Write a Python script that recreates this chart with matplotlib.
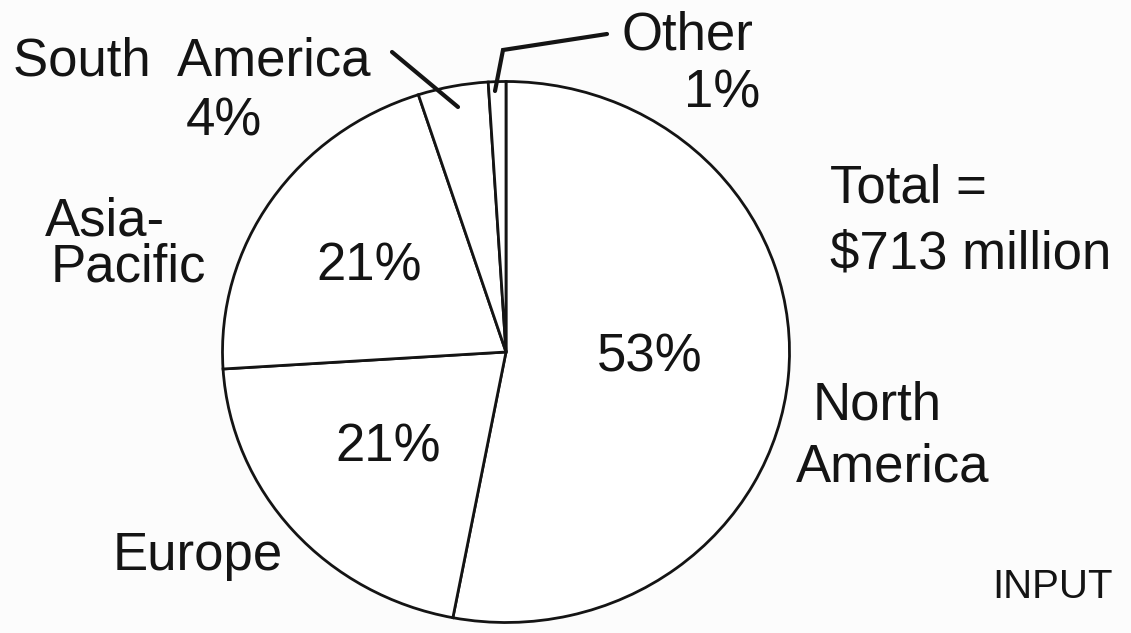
import matplotlib

matplotlib.use("Agg")
import matplotlib.pyplot as plt

# revenue share by region (percent of total)
regions = ["North America", "Europe", "Asia-Pacific", "South America", "Other"]
shares = [53, 21, 21, 4, 1]
total_label = ["Total =", "$713 million"]
footer = "INPUT"

W, H = 1131, 633
CX, CY = 506, 352      # pie centre in image pixels
RX, RY = 283.5, 270.5  # scanned pie is slightly wider than tall
INK = "#141414"
FONT = "Liberation Sans"
FS = 38


def fig_xy(x, y):
    """image pixel (from top-left) -> figure fraction"""
    return x / W, 1 - y / H


fig = plt.figure(figsize=(W / 100, H / 100), dpi=100, facecolor="#fcfcfc")
ax = fig.add_axes([0, 0, 1, 1])
ax.pie(shares, startangle=90, counterclock=False, radius=1,
       colors=["white"] * len(shares),
       wedgeprops=dict(edgecolor=INK, linewidth=2))
ax.set_aspect("auto")
ax.set_xlim(-CX / RX, (W - CX) / RX)
ax.set_ylim(-(H - CY) / RY, CY / RY)
ax.axis("off")


def txt(s, x, y, ha="left", size=FS):
    fx, fy = fig_xy(x, y)
    fig.text(fx, fy, s, ha=ha, va="baseline", fontsize=size,
             family=FONT, color=INK)


# percentages inside the big slices
pct = {r: f"{v}%" for r, v in zip(regions, shares)}
txt(pct["North America"], 650, 371, ha="center")
txt(pct["Europe"], 388, 461, ha="center")
txt(pct["Asia-Pacific"], 369, 280, ha="center")

# outside labels
txt("North", 813, 420)
txt("America", 796, 482)
txt(regions[1], 113, 570)
txt("Asia-", 45, 235)
txt("Pacific", 51, 282)
txt("South  America", 13, 76)
txt(pct["South America"], 224, 135, ha="center")
txt(regions[4], 621, 50)
txt(pct["Other"], 722, 108, ha="center")
txt(total_label[0], 830, 203)
txt(total_label[1], 830, 268)
txt(footer, 1113, 598, ha="right", size=29)

# leader lines
for pts in ([(392, 52), (458, 107)],
            [(607, 34), (503, 50), (495, 91)]):
    xs, ys = zip(*(fig_xy(x, y) for x, y in pts))
    fig.add_artist(plt.Line2D(xs, ys, color=INK, linewidth=3,
                              solid_capstyle="round", solid_joinstyle="miter",
                              transform=fig.transFigure))

fig.savefig("out.png", dpi=100, facecolor=fig.get_facecolor())
